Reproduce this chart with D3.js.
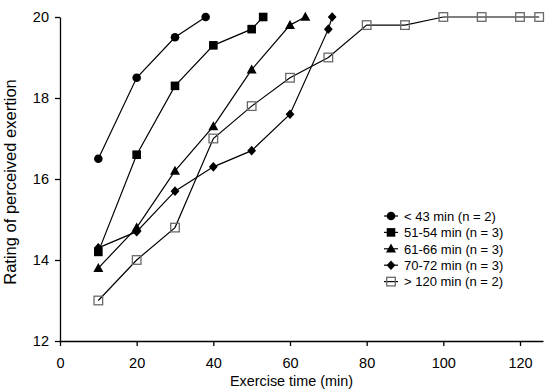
<!DOCTYPE html>
<html><head><meta charset="utf-8">
<script src="https://cdn.jsdelivr.net/npm/d3@7"></script>
<style>body{margin:0;background:#fff}svg{display:block}text{font-family:"Liberation Sans",Arial,sans-serif;fill:#000}</style>
</head><body>
<svg id="c" width="559" height="392"></svg>
<script>
const xTicks = [0, 20, 40, 60, 80, 100, 120];
const yTicks = [12, 14, 16, 18, 20];
const seriesNames = ["< 43 min (n = 2)", "51-54 min (n = 3)", "61-66 min (n = 3)", "70-72 min (n = 3)", "> 120 min (n = 2)"];
const seriesSymbols = ["circle", "square", "triangle", "diamond", "open"];
const lt43X = [10, 20, 30, 38];
const lt43Y = [16.5, 18.5, 19.5, 20];
const m51X = [10, 20, 30, 40, 50, 53];
const m51Y = [14.2, 16.6, 18.3, 19.3, 19.7, 20];
const m61X = [10, 20, 30, 40, 50, 60, 64];
const m61Y = [13.8, 14.8, 16.2, 17.3, 18.7, 19.8, 20];
const m70X = [10, 20, 30, 40, 50, 60, 70, 71];
const m70Y = [14.3, 14.7, 15.7, 16.3, 16.7, 17.6, 19.7, 20];
const gt120X = [10, 20, 30, 40, 50, 60, 70, 80, 90, 100, 110, 120, 125];
const gt120Y = [13, 14, 14.8, 17, 17.8, 18.5, 19, 19.8, 19.8, 20, 20, 20, 20];

const seriesX = [lt43X, m51X, m61X, m70X, gt120X];
const seriesY = [lt43Y, m51Y, m61Y, m70Y, gt120Y];

const svg = d3.select("#c");
const x = d3.scaleLinear().domain([0, 126]).range([60, 543]);
const y = d3.scaleLinear().domain([12, 20]).range([341, 17]);

const xAxis = svg.append("g").attr("transform", "translate(0,341)")
  .call(d3.axisBottom(x).tickValues(xTicks).tickSize(5).tickPadding(12).tickSizeOuter(0));
const yAxis = svg.append("g").attr("transform", "translate(60,0)")
  .call(d3.axisLeft(y).tickValues(yTicks).tickSize(5).tickPadding(6).tickSizeOuter(0));
[xAxis, yAxis].forEach(a => {
  a.select(".domain").attr("stroke", "#000").attr("stroke-width", 1.3);
  a.selectAll(".tick line").attr("stroke", "#000").attr("stroke-width", 1.3);
  a.selectAll(".tick text").attr("font-size", 14.5).attr("font-family", '"Liberation Sans",Arial,sans-serif').attr("fill", "#000");
});

svg.append("text").attr("x", 291.5).attr("y", 386).attr("text-anchor", "middle")
  .attr("font-size", 14.4).text("Exercise time (min)");
svg.append("text").attr("transform", "translate(15.5,182) rotate(-90)").attr("text-anchor", "middle")
  .attr("font-size", 16.5).text("Rating of perceived exertion");

function drawMarker(g, sym, cx, cy) {
  if (sym === "circle") g.append("circle").attr("cx", cx).attr("cy", cy).attr("r", 4.3).attr("fill", "#000");
  else if (sym === "square") g.append("rect").attr("x", cx - 4.3).attr("y", cy - 4.3).attr("width", 8.6).attr("height", 8.6).attr("fill", "#000");
  else if (sym === "triangle") g.append("path").attr("d", `M${cx},${cy - 5.2}L${cx + 5},${cy + 3.8}L${cx - 5},${cy + 3.8}Z`).attr("fill", "#000");
  else if (sym === "diamond") g.append("path").attr("d", `M${cx},${cy - 4.8}L${cx + 4.4},${cy}L${cx},${cy + 4.8}L${cx - 4.4},${cy}Z`).attr("fill", "#000");
  else g.append("rect").attr("x", cx - 4.3).attr("y", cy - 4.3).attr("width", 8.6).attr("height", 8.6)
    .attr("fill", "none").attr("stroke", "#6a6a6a").attr("stroke-width", 1.3);
}

const line = d3.line().x(d => x(d[0])).y(d => y(d[1]));
seriesX.forEach((xs, i) => {
  const pts = xs.map((v, j) => [v, seriesY[i][j]]);
  const g = svg.append("g");
  g.append("path").attr("d", line(pts)).attr("fill", "none").attr("stroke", "#000").attr("stroke-width", 1.2);
  pts.forEach(p => drawMarker(g, seriesSymbols[i], x(p[0]), y(p[1])));
});

const lg = svg.append("g");
seriesNames.forEach((name, i) => {
  const ly = 216 + i * 16.4;
  lg.append("line").attr("x1", 384).attr("x2", 398).attr("y1", ly).attr("y2", ly).attr("stroke", "#000").attr("stroke-width", 1.2);
  drawMarker(lg, seriesSymbols[i], 391, ly);
  lg.append("text").attr("x", 404).attr("y", ly + 4.7).attr("font-size", 13).text(name);
});
</script>
</body></html>
